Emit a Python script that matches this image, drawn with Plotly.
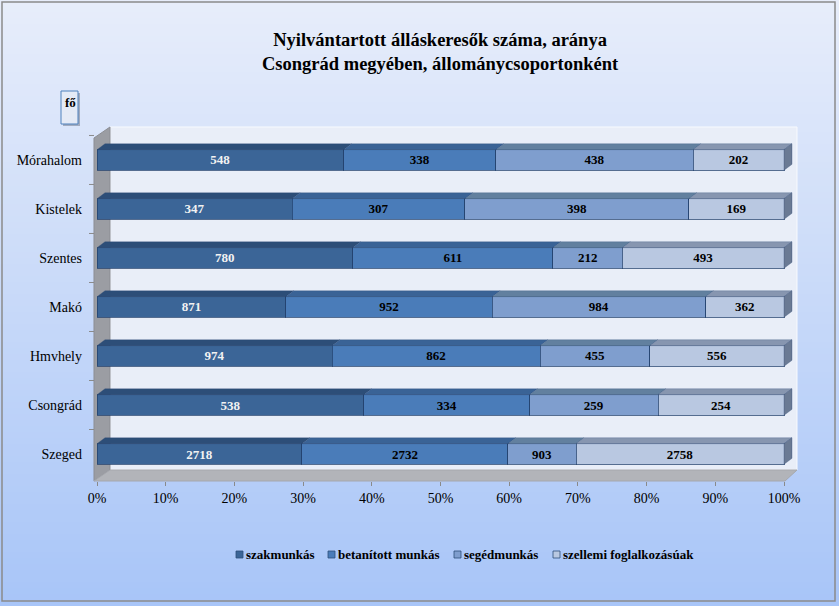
import plotly.graph_objects as go

# ---- data ----
cities = ["Szeged", "Csongrád", "Hmvhely", "Makó", "Szentes", "Kistelek", "Mórahalom"]
szakmunkas = [2718, 538, 974, 871, 780, 347, 548]
betanitott = [2732, 334, 862, 952, 611, 307, 338]
segedmunkas = [903, 259, 455, 984, 212, 398, 438]
szellemi = [2758, 254, 556, 362, 493, 169, 202]
series_names = ["szakmunkás", "betanított munkás", "segédmunkás", "szellemi foglalkozásúak"]
x_ticks = [0, 10, 20, 30, 40, 50, 60, 70, 80, 90, 100]

series = [szakmunkas, betanitott, segedmunkas, szellemi]
colors = ["#3B6597", "#4A7CB9", "#7F9ECE", "#B9C8E1"]
top_colors = ["#2D4E78", "#3A6396", "#62809F", "#8796B0"]
side_color = "#6A7A94"
text_colors = ["#F2F2F2", "#000000", "#000000", "#000000"]
FONT = "Liberation Serif, Times New Roman, serif"

# legend entry left edges (pixels) – layout only
legend_x = [236, 328, 454, 553]
legend_y = 554

W, H = 839, 606
L, R, T, B = 97, 42, 127, 125
PW = W - L - R  # 700
PH = H - T - B  # 354
XMAX = 100 * PW / 687.0
YMIN, YMAX = -0.551, 6.673

def px(p):
    return (p - L) / PW

def py(p):
    return (H - B - p) / PH

totals = [sum(s[i] for s in series) for i in range(len(cities))]
pcts = [[100.0 * s[i] / totals[i] for i in range(len(cities))] for s in series]
ypos = list(range(len(cities)))

fig = go.Figure()
for k, name in enumerate(series_names):
    fig.add_trace(go.Bar(
        y=ypos, x=pcts[k], orientation="h", name=name, width=0.42,
        marker=dict(color=colors[k], line=dict(color="rgba(35,65,110,0.75)", width=1)),
        text=[str(v) for v in series[k]], textposition="inside", insidetextanchor="middle",
        textangle=0, constraintext="none",
        textfont=dict(family=FONT, size=13, color=text_colors[k], weight="bold"),
        hoverinfo="skip", showlegend=False,
    ))

shapes = []
# background gradient
n = 101
top_rgb = (231, 237, 250)
bot_rgb = (168, 197, 248)
for i in range(n):
    t = i / (n - 1)
    c = tuple(int(round(top_rgb[j] + (bot_rgb[j] - top_rgb[j]) * t)) for j in range(3))
    y0 = H * i / n
    y1 = H * (i + 1) / n + 1
    shapes.append(dict(type="rect", xref="paper", yref="paper", layer="below",
                       x0=px(0), x1=px(W), y0=py(y1), y1=py(y0),
                       fillcolor="rgb(%d,%d,%d)" % c, line=dict(width=0)))
# outer border
shapes.append(dict(type="rect", xref="paper", yref="paper", layer="below",
                   x0=px(2), x1=px(835), y0=py(601), y1=py(2),
                   fillcolor="rgba(0,0,0,0)", line=dict(color="#8a8a8a", width=1.5)))
# back wall
shapes.append(dict(type="rect", xref="paper", yref="paper", layer="below",
                   x0=px(110), x1=px(797), y0=py(470), y1=py(127),
                   fillcolor="#E9EEF8", line=dict(color="#F8FAFE", width=1)))
# left wall
shapes.append(dict(type="path", xref="paper", yref="paper", layer="below",
                   path="M %f,%f L %f,%f L %f,%f L %f,%f Z" % (
                       px(94), py(138), px(110), py(127), px(110), py(470), px(94), py(481)),
                   fillcolor="#9B9DA3", line=dict(color="#8C8E94", width=1)))
# floor
shapes.append(dict(type="path", xref="paper", yref="paper", layer="below",
                   path="M %f,%f L %f,%f L %f,%f L %f,%f Z" % (
                       px(94), py(481), px(110), py(470), px(797), py(470), px(785), py(481)),
                   fillcolor="#B2B4B9", line=dict(color="#A6A8AD", width=1)))
# small category-boundary ticks on the left wall
for i in range(len(cities)):
    shapes.append(dict(type="line", xref="paper", yref="y", layer="below",
                       x0=px(89), x1=px(94), y0=ypos[i] + 0.5, y1=ypos[i] + 0.5,
                       line=dict(color="#8a8a8a", width=1)))
# "fő" box shadow + box
shapes.append(dict(type="rect", xref="paper", yref="paper", layer="below",
                   x0=px(63), x1=px(80), y0=py(126), y1=py(93),
                   fillcolor="rgba(90,100,120,0.45)", line=dict(width=0)))
shapes.append(dict(type="rect", xref="paper", yref="paper", layer="below",
                   x0=px(61), x1=px(78), y0=py(124), y1=py(91),
                   fillcolor="#E4EAF6", line=dict(color="#4F81BD", width=1)))

# 3D faces of bars derived from data
dx = 8 * XMAX / PW
dy = 6 * (YMAX - YMIN) / PH
hw = 0.21
for i in range(len(cities)):
    start = 0.0
    for k in range(len(series)):
        end = start + pcts[k][i]
        yt = ypos[i] + hw
        shapes.append(dict(type="path", xref="x", yref="y", layer="above",
                           path="M %f,%f L %f,%f L %f,%f L %f,%f Z" % (
                               start, yt, end, yt, end + dx, yt + dy, start + dx, yt + dy),
                           fillcolor=top_colors[k], line=dict(color="rgba(35,65,110,0.5)", width=0.5)))
        start = end
    yb = ypos[i] - hw
    yt = ypos[i] + hw
    shapes.append(dict(type="path", xref="x", yref="y", layer="above",
                       path="M %f,%f L %f,%f L %f,%f L %f,%f Z" % (
                           start, yb, start, yt, start + dx, yt + dy, start + dx, yb + dy),
                       fillcolor=side_color, line=dict(color="rgba(35,65,110,0.6)", width=0.5)))

annotations = [
    dict(xref="paper", yref="paper", x=px(440), y=py(52), xanchor="center", yanchor="middle",
         text="Nyilvántartott álláskeresők száma, aránya<br>Csongrád megyében, állománycsoportonként",
         showarrow=False, font=dict(family=FONT, size=18.5, color="#000", weight="bold")),
    dict(xref="paper", yref="paper", x=px(63), y=py(103), xanchor="left", yanchor="middle",
         text="fő", showarrow=False,
         font=dict(family=FONT, size=13, color="#000", weight="bold")),
]

# legend (squares + labels)
for k, name in enumerate(series_names):
    x0 = legend_x[k]
    shapes.append(dict(type="rect", xref="paper", yref="paper", layer="above",
                       x0=px(x0), x1=px(x0 + 7), y0=py(legend_y + 4), y1=py(legend_y - 3),
                       fillcolor=colors[k], line=dict(color="#2F4F7A", width=0.8)))
    annotations.append(dict(xref="paper", yref="paper", x=px(x0 + 8), y=py(legend_y),
                            xanchor="left", yanchor="middle", showarrow=False, text=name,
                            font=dict(family=FONT, size=13, color="#000", weight="bold")))

fig.update_layout(
    width=W, height=H, margin=dict(l=L, r=R, t=T, b=B, pad=0),
    barmode="stack", bargap=0.5,
    paper_bgcolor="#D0DDF7", plot_bgcolor="rgba(0,0,0,0)",
    font=dict(family=FONT),
    shapes=shapes, annotations=annotations,
    showlegend=False,
    xaxis=dict(range=[0, XMAX], tickvals=x_ticks, ticktext=["%d%%" % v for v in x_ticks],
               showgrid=False, zeroline=False, showline=False, ticks="outside", ticklen=4,
               tickcolor="#8a8a8a", tickfont=dict(family=FONT, size=14, color="#000"),
               fixedrange=True),
    yaxis=dict(range=[YMIN, YMAX], tickvals=ypos, ticktext=cities,
               showgrid=False, zeroline=False, showline=False, ticks="",
               ticklabelstandoff=14,
               tickfont=dict(family=FONT, size=14, color="#000"), fixedrange=True),
)

fig.write_html("out.html", config={"displayModeBar": False})
